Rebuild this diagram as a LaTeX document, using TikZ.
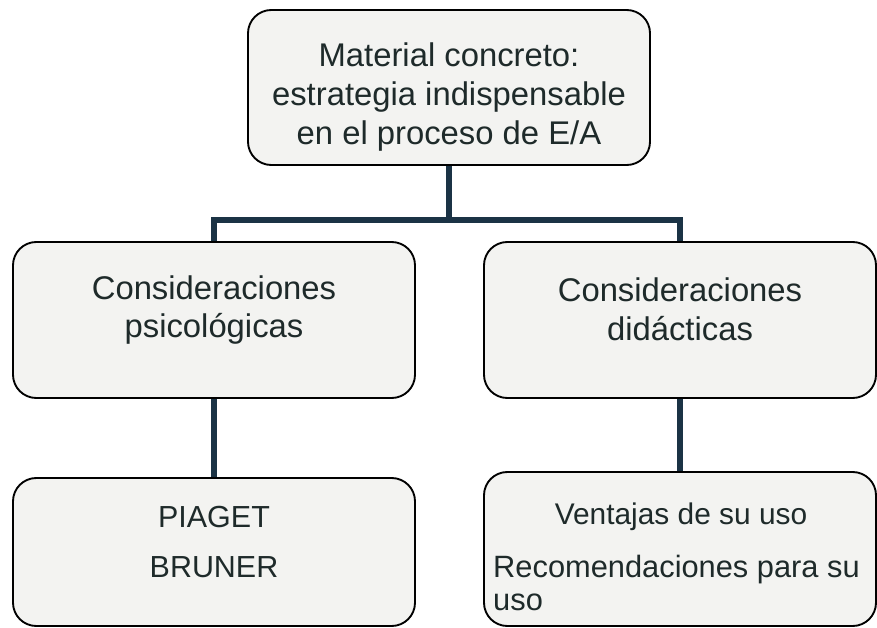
\documentclass[tikz,border=0pt]{standalone}
\usepackage{fontspec}
\setmainfont{Liberation Sans}
\usetikzlibrary{positioning}
\definecolor{linea}{HTML}{1B3345}
\definecolor{cajafill}{HTML}{F3F3F1}
\definecolor{letra}{HTML}{1E2A2A}

\begin{document}
\begin{tikzpicture}[x=0.03cm, y=-0.03cm,
  caja/.style={draw=black, fill=cajafill, rounded corners=0.7cm, line width=1.6pt},
  texto/.style={align=center, text=letra, inner sep=0pt, font=\fontsize{28}{33}\selectfont},
  rama/.style={draw=linea, line width=4.5pt}]

  \useasboundingbox (0,0) rectangle (877,628);

  % cajas
  \node[caja, minimum width=12.06cm, minimum height=4.65cm] (M) at (449,87.5) {};
  \node[caja, minimum width=12.06cm, minimum height=4.68cm] (P) at (214,320) {};
  \node[caja, minimum width=11.76cm, minimum height=4.68cm] (D) at (680,320) {};
  \node[caja, minimum width=12.06cm, minimum height=4.44cm] (A) at (214,552) {};
  \node[caja, minimum width=11.76cm, minimum height=4.62cm] (U) at (680,549) {};

  % textos
  \node[texto] (Mt) at (449,97) {Material concreto:\\estrategia indispensable\\en el proceso de E/A};
  \node[texto] (Pt) at (214,310) {Consideraciones\\psicológicas};
  \node[texto] (Dt) at (680,309) {Consideraciones\\didácticas};
  \node[texto, font=\fontsize{26}{33}\selectfont] (At) at (214,542) {PIAGET\\[10pt]BRUNER};
  \node[texto, font=\fontsize{25.5}{30}\selectfont] (Ut) at (681,517) {Ventajas de su uso};
  \node[texto, align=left, anchor=west, font=\fontsize{26.3}{28}\selectfont] (Rt) at (493,583) {Recomendaciones para su\\uso};

  % ramas
  \coordinate (J) at (449,220);
  \draw[rama] (M.south) -- (J);
  \draw[rama] (P.north) |- (J) -| (D.north);
  \draw[rama] (P.south) -- (A.north);
  \draw[rama] (D.south) -- (U.north);
\end{tikzpicture}
\end{document}
